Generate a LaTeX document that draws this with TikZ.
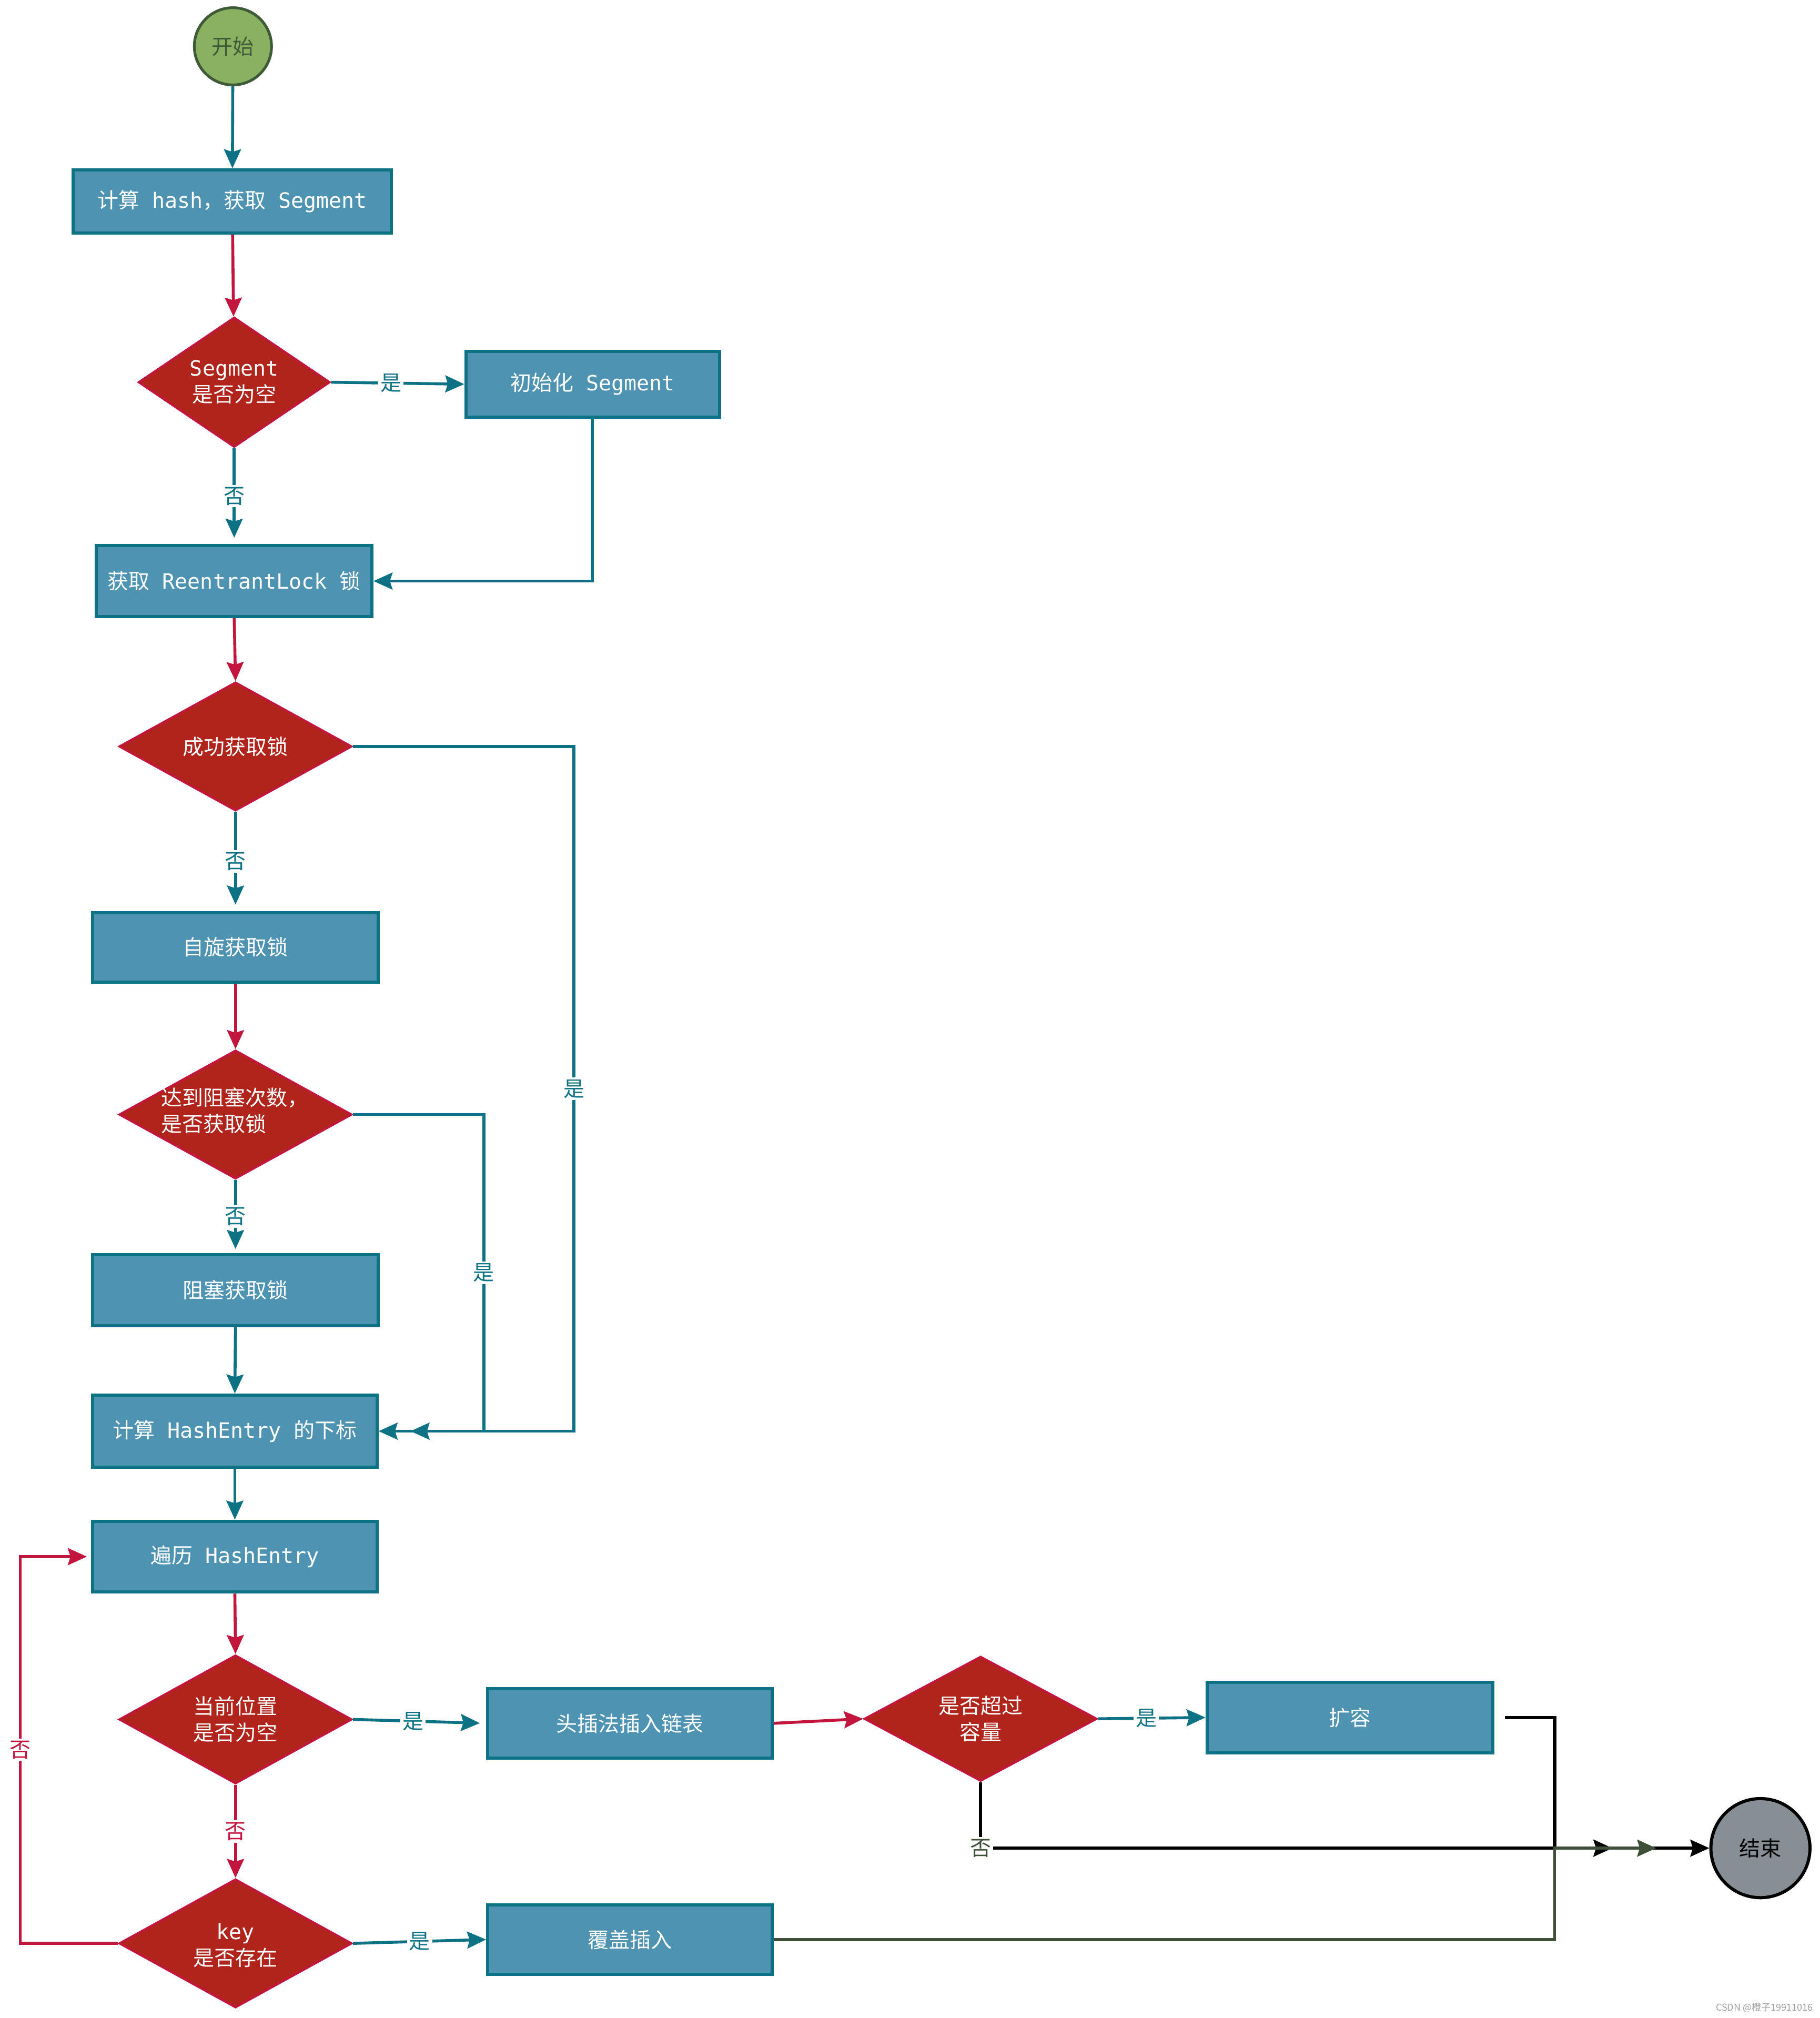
\documentclass[tikz,border=0pt]{standalone}
\usepackage{fontspec}
\setmainfont{Noto Sans CJK SC}
\newfontfamily\monof{DejaVu Sans Mono}
\usetikzlibrary{shapes.geometric,arrows.meta}
\def\pxu{0.6117pt}
\newcommand\mt[1]{{\monof #1}}
\newcommand\gapsp{\hspace{0.6em}}
\definecolor{tealc}{HTML}{0E7285}
\definecolor{boxf}{HTML}{4E93B2}
\definecolor{diaf}{HTML}{B0241C}
\definecolor{crim}{HTML}{C2163E}
\definecolor{startf}{HTML}{8AB061}
\definecolor{startb}{HTML}{3E5A36}
\definecolor{endf}{HTML}{878E95}
\definecolor{greenl}{HTML}{3E5038}
\tikzset{
  procbox/.style={rectangle, draw=tealc, line width=1.5pt, fill=boxf, text=white, inner sep=0pt, font=\fontsize{10}{12.5}\selectfont},
  decbox/.style={diamond, draw=crim, line width=1pt, fill=diaf, inner sep=0pt},
  dtext/.style={text=white, align=center, inner sep=0pt, font=\fontsize{10}{12.5}\selectfont},
  tip/.style={-{Stealth[length=9pt,width=8pt,inset=1.2pt]}},
  tarrow/.style={tip, draw=tealc, line width=1.4pt},
  carrow/.style={tip, draw=crim, line width=1.4pt},
  karrow/.style={tip, draw=black, line width=1.4pt},
  garrow/.style={tip, draw=greenl, line width=1.4pt},
  lbl/.style={fill=white, inner sep=1pt, text=tealc, font=\fontsize{10}{10}\selectfont},
}
\begin{document}
\begin{tikzpicture}[x=0.6117pt, y=-0.6117pt]
\useasboundingbox (0,0) rectangle (1414,1568);
% start / end
\node[circle, draw=startb, line width=1.3pt, fill=startf, minimum size={60*\pxu}, inner sep=0pt, text=startb, font=\fontsize{10}{12}\selectfont] (st) at (181,36) {开始};
\node[circle, draw=black, line width=1.5pt, fill=endf, minimum size={77*\pxu}, inner sep=0pt, text=black, font=\fontsize{10}{12}\selectfont] (en) at (1368,1436) {结束};
% process boxes
\node[procbox, minimum width={247*\pxu}, minimum height={49*\pxu}] (b1) at (180.5,156.5) {计算\gapsp{}\mt{hash}，获取\gapsp{}\mt{Segment}};
\node[procbox, minimum width={197*\pxu}, minimum height={51*\pxu}] (ini) at (460.5,298.5) {初始化\gapsp{}\mt{Segment}};
\node[procbox, minimum width={214*\pxu}, minimum height={55*\pxu}] (lk) at (182,451.5) {获取\gapsp{}\mt{ReentrantLock}\gapsp{}锁};
\node[procbox, minimum width={222*\pxu}, minimum height={54*\pxu}] (sp) at (183,736) {自旋获取锁};
\node[procbox, minimum width={222*\pxu}, minimum height={55*\pxu}] (bl) at (183,1002.5) {阻塞获取锁};
\node[procbox, minimum width={221*\pxu}, minimum height={56*\pxu}] (hi) at (182.5,1112) {计算\gapsp{}\mt{HashEntry}\gapsp{}的下标};
\node[procbox, minimum width={221*\pxu}, minimum height={55*\pxu}] (tr) at (182.5,1209.5) {遍历\gapsp{}\mt{HashEntry}};
\node[procbox, minimum width={221*\pxu}, minimum height={54*\pxu}] (hd) at (489.5,1339) {头插法插入链表};
\node[procbox, minimum width={222*\pxu}, minimum height={55*\pxu}] (ex) at (1049,1334.5) {扩容};
\node[procbox, minimum width={221*\pxu}, minimum height={54*\pxu}] (cv) at (489.5,1507) {覆盖插入};
% decisions
\node[decbox, minimum width={149*\pxu}, minimum height={101*\pxu}] (d1) at (182,297) {};
\node[dtext] (d1t) at (d1) {\mt{Segment}\\是否为空};
\node[decbox, minimum width={181*\pxu}, minimum height={100*\pxu}] (d2) at (183,580) {};
\node[dtext] (d2t) at (d2) {成功获取锁};
\node[decbox, minimum width={181*\pxu}, minimum height={100*\pxu}] (d3) at (183,866) {};
\node[dtext, align=left, anchor=west] (d3t) at (125,863) {达到阻塞次数，\\是否获取锁};
\node[decbox, minimum width={181*\pxu}, minimum height={100*\pxu}] (d4) at (183,1336) {};
\node[dtext] (d4t) at (d4) {当前位置\\是否为空};
\node[decbox, minimum width={181*\pxu}, minimum height={97*\pxu}] (d5) at (762,1335.5) {};
\node[dtext] (d5t) at (d5) {是否超过\\容量};
\node[decbox, minimum width={181*\pxu}, minimum height={100*\pxu}] (d6) at (183,1510) {};
\node[dtext] (d6t) at (183,1511.5) {\mt{key}\\是否存在};
% helper coordinates
\coordinate (c2) at (446,580);
\coordinate (c3) at (376,866);
\coordinate (t3) at (319,1112);
\coordinate (jx) at (1208,1436);
\coordinate (tip1) at (1253,1436);
\coordinate (tip2) at (1287,1436);
% connectors
\draw[tarrow] (st) -- (b1);
\draw[carrow] (b1) -- (d1);
\draw[tarrow] (d1.east) -- node[lbl, pos=0.45]{是} (ini.west);
\draw[tarrow, shorten >=3pt] (d1.south) -- node[lbl]{否} (lk.north);
\draw[tarrow] (ini.south) |- (lk.east);
\draw[carrow] (lk.south) -- (d2.north);
\draw[tarrow, shorten >=3pt] (d2.south) -- node[lbl]{否} (sp.north);
\draw[tarrow] (d2.east) -- (c2) -- node[lbl]{是} (c2 |- hi.east) -- (hi.east);
\draw[carrow] (sp.south) -- (d3.north);
\draw[tarrow, shorten >=2pt] (d3.south) -- node[lbl]{否} (bl.north);
\draw[tarrow] (d3.east) -- (c3) -- node[lbl]{是} (c3 |- t3) -- (t3);
\draw[tarrow] (bl.south) -- (hi.north);
\draw[tarrow] (hi.south) -- (tr.north);
\draw[carrow] (tr.south) -- (d4.north);
\draw[tarrow, shorten >=3pt] (d4.east) -- node[lbl, pos=0.45]{是} (hd.west);
\draw[carrow] (d4.south) -- node[lbl, text=crim]{否} (d6.north);
\draw[tarrow] (d6.east) -- node[lbl, pos=0.5]{是} (cv.west);
\draw[carrow, shorten >=2pt] (d6.west) -- ++(-76,0) |- node[pos=0.25, lbl, text=crim]{否} (tr.west);
\draw[carrow] (hd.east) -- (d5.west);
\draw[tarrow] (d5.east) -- node[lbl, pos=0.45]{是} (ex.west);
\draw[karrow] (d5.south) -- (d5.south |- en.west) node[lbl, text=greenl]{否} -- (en.west);
\draw[karrow, line width=1.6pt, shorten <=5pt] (ex.east) -| (jx) -- (tip1);
\draw[garrow] (cv.east) -| (jx) -- (tip2);
% watermark
\node[anchor=east, text=black!38, inner sep=0pt, font=\fontsize{4.5}{5}\selectfont] (wm) at (1409,1560) {CSDN @橙子19911016};
\end{tikzpicture}
\end{document}
